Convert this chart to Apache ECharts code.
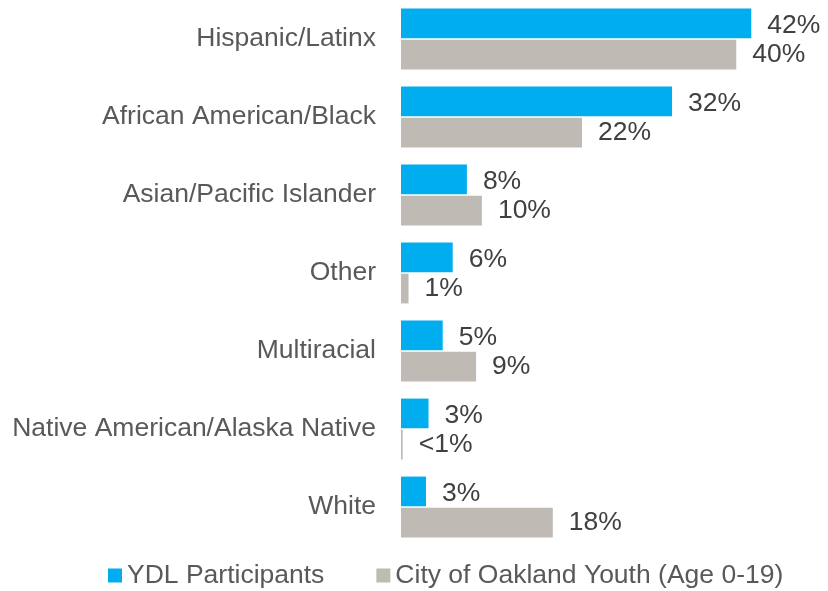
<!DOCTYPE html>
<html>
<head>
<meta charset="utf-8">
<script src="https://cdn.jsdelivr.net/npm/echarts@6/dist/echarts.min.js"></script>
<style>
html, body { margin: 0; padding: 0; background: #fff; }
#chart { width: 828px; height: 591px; }
</style>
</head>
<body>
<div id="chart"></div>
<script>
// 类别（从上到下）
var categories = ['Hispanic/Latinx', 'African American/Black', 'Asian/Pacific Islander', 'Other',
    'Multiracial', 'Native American/Alaska Native', 'White'];
var seriesNames = ['YDL Participants', 'City of Oakland Youth (Age 0-19)'];
// 条形长度（按图读出的百分比）
var ydlValues = [42.0, 32.5, 7.9, 6.2, 5.0, 3.3, 3.0];
var oaklandValues = [40.2, 21.7, 9.7, 0.9, 9.0, 0.2, 18.2];
// 显示的标签
var ydlLabels = ['42%', '32%', '8%', '6%', '5%', '3%', '3%'];
var oaklandLabels = ['40%', '22%', '10%', '1%', '9%', '<1%', '18%'];

var fontName = 'Liberation Sans, Arial, sans-serif';
var dom = document.getElementById('chart');
var myChart = echarts.init(dom);

function barSeries(name, data, labels, color, dy) {
    return {
        name: name,
        type: 'bar',
        data: data,
        barGap: '5%',
        barCategoryGap: '22%',
        itemStyle: { color: color },
        label: {
            show: true,
            position: 'right',
            distance: 16,
            offset: [0, dy],
            fontFamily: fontName,
            fontSize: 26.5,
            color: '#404040',
            formatter: function (p) {
                return labels[p.dataIndex];
            }
        }
    };
}

var option = {
    animation: false,
    legend: {
        left: 108,
        top: 562,
        padding: 0,
        itemWidth: 14,
        itemHeight: 14,
        itemGap: 52,
        icon: 'rect',
        textStyle: { fontFamily: fontName, fontSize: 26.5, color: '#595959' },
        data: seriesNames
    },
    grid: {
        left: 401,
        right: 10,
        top: 0,
        bottom: 45,
        containLabel: false
    },
    xAxis: {
        type: 'value',
        min: 0,
        max: 50,
        show: false
    },
    yAxis: {
        type: 'category',
        inverse: true,
        data: categories,
        axisLine: { show: false },
        axisTick: { show: false },
        axisLabel: {
            margin: 25,
            fontFamily: fontName,
            fontSize: 26.5,
            color: '#595959'
        }
    },
    series: [
        barSeries(seriesNames[0], ydlValues, ydlLabels, '#00AEEF', 2),
        barSeries(seriesNames[1], oaklandValues, oaklandLabels, '#BFBAB4', 0)
    ]
};

myChart.setOption(option);
</script>
</body>
</html>
